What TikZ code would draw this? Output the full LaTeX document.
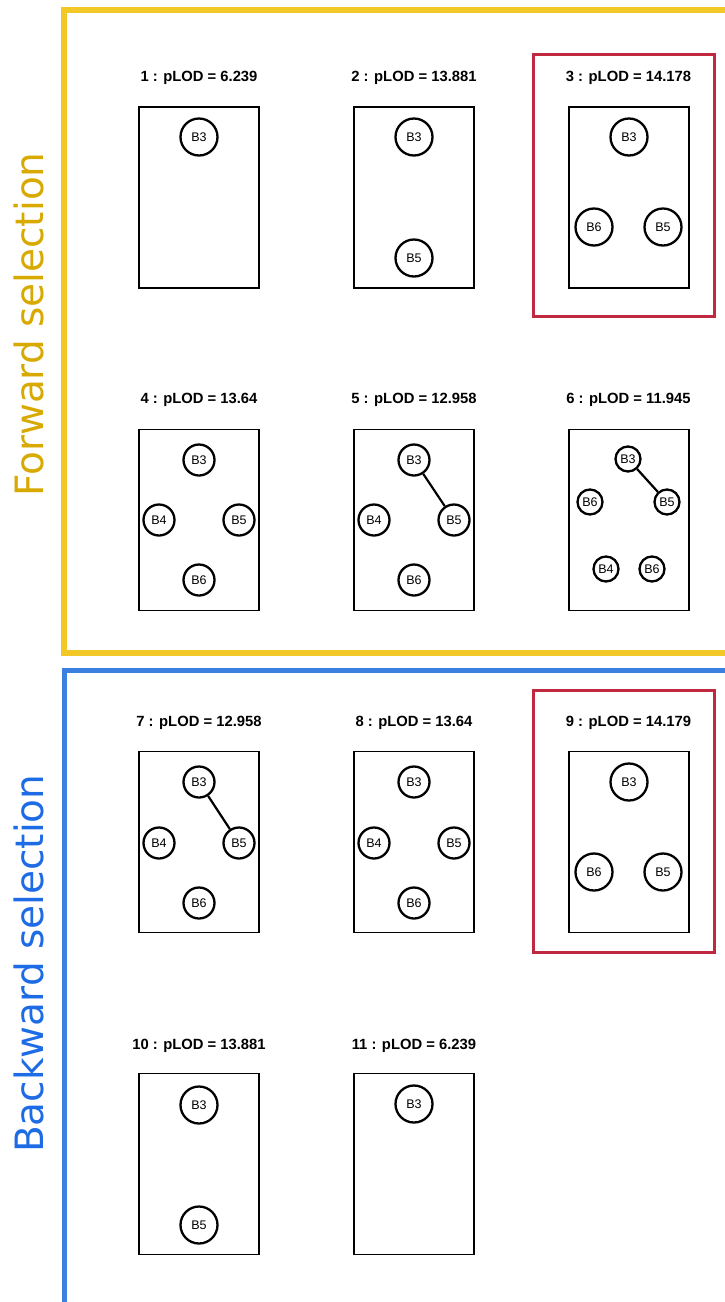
\documentclass[tikz,border=0pt]{standalone}
\usepackage{fontspec}
\setmainfont{Liberation Sans}
\newfontfamily\dejavu{DejaVu Sans}
\definecolor{fwdframe}{HTML}{F2C827}
\definecolor{fwdtext}{HTML}{D8A900}
\definecolor{bwdframe}{HTML}{3C80E0}
\definecolor{bwdtext}{HTML}{1E6BE6}
\definecolor{bestred}{HTML}{C0283F}
\tikzset{
  panelbox/.style={draw, line width=1.3pt, minimum width=120pt, minimum height=181pt, inner sep=0pt},
  ptitle/.style={font=\fontsize{14.8}{17}\selectfont\bfseries, inner sep=0pt, anchor=base},
  bigc/.style={circle, draw, line width=2.3pt, minimum size=37pt, inner sep=0pt, font=\fontsize{12.5}{14}\selectfont},
  medc/.style={circle, draw, line width=2.3pt, minimum size=31pt, inner sep=0pt, font=\fontsize{12.5}{14}\selectfont},
  smallc/.style={circle, draw, line width=2.3pt, minimum size=25pt, inner sep=0pt, font=\fontsize{12.5}{14}\selectfont},
  edgeline/.style={line width=2.2pt},
  sidelabel/.style={font=\dejavu\fontsize{39}{44}\selectfont, rotate=90, anchor=base west, inner sep=0pt},
}
\begin{document}
\begin{tikzpicture}[x=1pt,y=-1pt]
\useasboundingbox (0,0) rectangle (725,1302);
\clip (0,0) rectangle (725,1302);
% frames
\draw[fwdframe, line width=6pt] (740,10) -- (64,10) -- (64,653) -- (740,653);
\draw[bwdframe, line width=5.5pt] (740,670.5) -- (64.5,670.5) -- (64.5,1320);
\node[sidelabel, text=fwdtext] (fwd) at (43,497) {Forward selection};
\node[sidelabel, text=bwdtext] (bwd) at (43,1153) {Backward selection};
% best boxes
\draw[bestred, line width=3pt] (533,54) rectangle (714,316);
\draw[bestred, line width=3pt] (533,690) rectangle (714,952);
% row 1
\node[ptitle] (t1) at (199,81) {1 : pLOD = 6.239};
\node[panelbox] (p1) at (199,197.5) {};
\node[bigc] (p1b3) at (199,137) {B3};
\node[ptitle] (t2) at (414,81) {2 : pLOD = 13.881};
\node[panelbox] (p2) at (414,197.5) {};
\node[bigc] (p2b3) at (414,137) {B3};
\node[bigc] (p2b5) at (414,258) {B5};
\node[ptitle] (t3) at (628.5,81) {3 : pLOD = 14.178};
\node[panelbox] (p3) at (629,197.5) {};
\node[bigc] (p3b3) at (629,137) {B3};
\node[bigc] (p3b6) at (594,227) {B6};
\node[bigc] (p3b5) at (663,227) {B5};
% row 2
\node[ptitle] (t4) at (199,403) {4 : pLOD = 13.64};
\node[panelbox] (p4) at (199,520) {};
\node[medc] (p4b3) at (199,460) {B3};
\node[medc] (p4b4) at (159,520) {B4};
\node[medc] (p4b5) at (239,520) {B5};
\node[medc] (p4b6) at (199,580) {B6};
\node[ptitle] (t5) at (414,403) {5 : pLOD = 12.958};
\node[panelbox] (p5) at (414,520) {};
\node[medc] (p5b3) at (414,460) {B3};
\node[medc] (p5b4) at (374,520) {B4};
\node[medc] (p5b5) at (454,520) {B5};
\node[medc] (p5b6) at (414,580) {B6};
\draw[edgeline] (p5b3) -- (p5b5);
\node[ptitle] (t6) at (628.5,403) {6 : pLOD = 11.945};
\node[panelbox] (p6) at (629,520) {};
\node[smallc] (p6b3) at (628,459) {B3};
\node[smallc] (p6b6a) at (590,502) {B6};
\node[smallc] (p6b5) at (667,502) {B5};
\node[smallc] (p6b4) at (606,569) {B4};
\node[smallc] (p6b6b) at (652,569) {B6};
\draw[edgeline] (p6b3) -- (p6b5);
% row 3
\node[ptitle] (t7) at (199,726) {7 : pLOD = 12.958};
\node[panelbox] (p7) at (199,842) {};
\node[medc] (p7b3) at (199,782) {B3};
\node[medc] (p7b4) at (159,843) {B4};
\node[medc] (p7b5) at (239,843) {B5};
\node[medc] (p7b6) at (199,903) {B6};
\draw[edgeline] (p7b3) -- (p7b5);
\node[ptitle] (t8) at (414,726) {8 : pLOD = 13.64};
\node[panelbox] (p8) at (414,842) {};
\node[medc] (p8b3) at (414,782) {B3};
\node[medc] (p8b4) at (374,843) {B4};
\node[medc] (p8b5) at (454,843) {B5};
\node[medc] (p8b6) at (414,903) {B6};
\node[ptitle] (t9) at (628.5,726) {9 : pLOD = 14.179};
\node[panelbox] (p9) at (629,842) {};
\node[bigc] (p9b3) at (629,782) {B3};
\node[bigc] (p9b6) at (594,872) {B6};
\node[bigc] (p9b5) at (663,872) {B5};
% row 4
\node[ptitle] (t10) at (199,1049) {10 : pLOD = 13.881};
\node[panelbox] (p10) at (199,1164) {};
\node[bigc] (p10b3) at (199,1105) {B3};
\node[bigc] (p10b5) at (199,1225) {B5};
\node[ptitle] (t11) at (414,1049) {11 : pLOD = 6.239};
\node[panelbox] (p11) at (414,1164) {};
\node[bigc] (p11b3) at (414,1104) {B3};
\end{tikzpicture}
\end{document}
